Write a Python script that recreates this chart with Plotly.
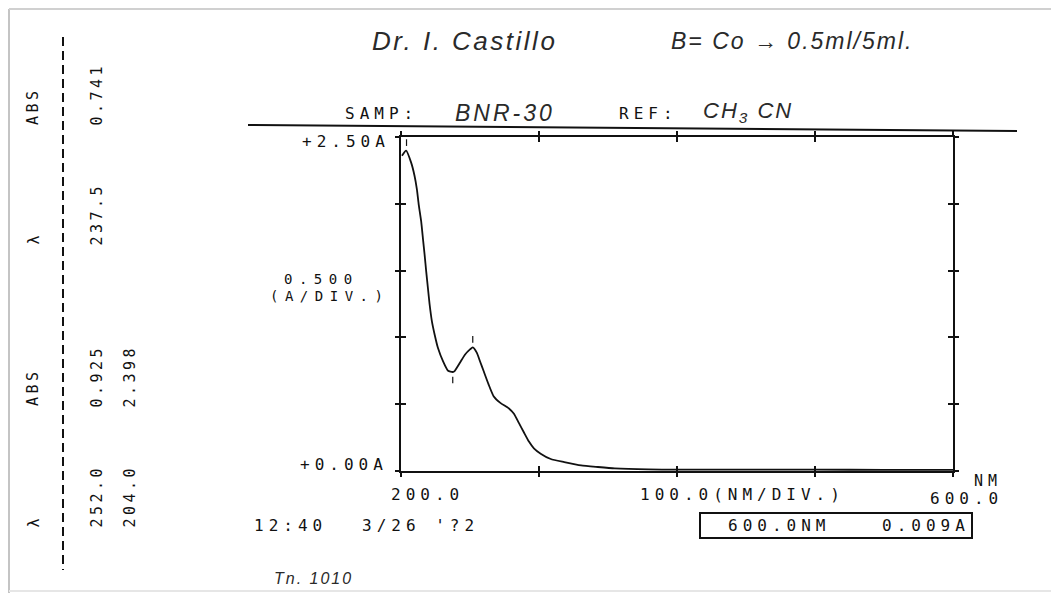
import plotly.graph_objects as go

# ---------------- data ----------------
wavelength_nm = [200.7, 203.7, 207.3, 209.8, 211.5, 212.9, 214.6, 215.9, 217.1, 218.3,
                 219.5, 220.7, 222.4, 224.4, 226.8, 230.5, 234.1, 237.5, 239.0, 242.7,
                 246.3, 250.0, 252.0, 254.9, 257.3, 259.8, 263.4, 267.1, 272.0, 278.0,
                 281.7, 285.4, 289.0, 292.7, 296.3, 301.2, 308.5, 318.3, 330.5, 342.7,
                 354.9, 379.0, 398.8, 450.0, 500.0, 550.0, 600.0]
absorbance = [2.36, 2.398, 2.31, 2.21, 2.11, 1.99, 1.87, 1.74, 1.62, 1.49,
              1.37, 1.25, 1.12, 1.02, 0.92, 0.82, 0.75, 0.741, 0.75, 0.81,
              0.87, 0.91, 0.925, 0.886, 0.82, 0.75, 0.65, 0.56, 0.51, 0.47,
              0.43, 0.36, 0.29, 0.22, 0.17, 0.13, 0.09, 0.067, 0.042, 0.03,
              0.02, 0.012, 0.010, 0.010, 0.010, 0.009, 0.009]

peak_nm = [204.0, 252.0]
peak_abs = [2.398, 0.925]
valley_nm = [237.5]
valley_abs = [0.741]

x_range = [200, 600]
y_range = [0, 2.5]
x_dtick = 100
y_dtick = 0.5

# ---------------- layout geometry ----------------
# the page body has an 8px margin, so the figure starts at (8, 8) of the window;
# coordinates below are given in window pixels and converted.
OFF = 8
W, H = 1059 - OFF, 593 - OFF
L, R, T, B = 401, 953, 137, 471          # plot box in window pixels
PW, PH = R - L, B - T


def px(x):
    return (x - L) / PW


def py(y):
    return (B - y) / PH


MONO = "DejaVu Sans Mono"
HAND = "Liberation Sans"

fig = go.Figure()

fig.add_trace(go.Scatter(
    x=wavelength_nm, y=absorbance, mode="lines",
    line=dict(color="#111111", width=1.8, shape="spline", smoothing=0.5),
    hoverinfo="x+y", showlegend=False,
))

# little peak / valley marker strokes
mx, my = [], []
for w, a in zip(peak_nm, peak_abs):
    mx += [w, w, None]
    my += [a + 0.035, a + 0.085, None]
for w, a in zip(valley_nm, valley_abs):
    mx += [w, w, None]
    my += [a - 0.035, a - 0.085, None]
fig.add_trace(go.Scatter(
    x=mx, y=my, mode="lines", xaxis="x2", yaxis="y2",
    line=dict(color="#111111", width=1.2), hoverinfo="skip", showlegend=False,
))

axis_common = dict(showline=True, linewidth=2, linecolor="#111111", mirror="allticks",
                   tickcolor="#111111", tickwidth=1.5, showticklabels=False,
                   showgrid=False, zeroline=False, fixedrange=True)

fig.update_layout(
    width=W, height=H,
    margin=dict(l=L - OFF, r=W - (R - OFF), t=T - OFF, b=H - (B - OFF), pad=0),
    paper_bgcolor="white", plot_bgcolor="white",
    xaxis=dict(range=x_range, tick0=x_range[0], dtick=x_dtick, ticks="inside", ticklen=5,
               **axis_common),
    yaxis=dict(range=y_range, tick0=0, dtick=y_dtick, ticks="inside", ticklen=5,
               **axis_common),
    xaxis2=dict(range=x_range, tick0=x_range[0], dtick=x_dtick, ticks="outside", ticklen=4,
                overlaying="x", anchor="y2", **axis_common),
    yaxis2=dict(range=y_range, tick0=0, dtick=y_dtick, ticks="outside", ticklen=4,
                overlaying="y", anchor="x2", **axis_common),
    showlegend=False,
)


def ls(text, spacing):
    return f'<span style="letter-spacing:{spacing}px">{text}</span>'


annotations = []


def mono(text, x, y, size=16, spacing=5, xanchor="center", yanchor="middle", angle=0):
    annotations.append(dict(
        text=ls(text, spacing), x=px(x), y=py(y), xref="paper", yref="paper",
        xanchor=xanchor, yanchor=yanchor, showarrow=False, textangle=angle,
        font=dict(family=MONO, size=size, color="#111111"),
    ))


def hand(text, x, y, size=20, spacing=1.5):
    annotations.append(dict(
        text=f'<i>{ls(text, spacing)}</i>', x=px(x), y=py(y), xref="paper", yref="paper",
        xanchor="center", yanchor="middle", showarrow=False,
        font=dict(family=HAND, size=size, color="#2a2a2a"),
    ))


# left rotated peak table
for text, x, ybot in [("ABS", 33, 127), ("0.741", 96, 128),
                      ("λ", 33, 247), ("237.5", 96, 248),
                      ("ABS", 33, 408), ("0.925", 96, 410), ("2.398", 129, 410),
                      ("λ", 33, 530), ("252.0", 96, 530), ("204.0", 129, 530)]:
    mono(text, x, ybot, size=15, spacing=3.5, yanchor="bottom", angle=-90)

# plot labels
mono("+2.50A", 346, 142)
mono("+0.00A", 344, 464)
mono("0.500", 321, 279, size=14, spacing=6.5)
mono("(A/DIV.)", 329, 296, size=14, spacing=6.5)
mono("200.0", 427, 494)
mono("100.0(NM/DIV.)", 742, 494)
mono("600.0", 966, 498)
mono("NM", 988, 481, size=15)
mono("12:40", 290, 525)
mono("3/26 '?2", 420, 525)
mono("600.0NM", 779, 525)
mono("0.009A", 926, 525)
mono("SAMP:", 381, 113)
mono("REF:", 648, 113)

# handwritten notes
hand("Dr. I. Castillo", 464, 41, size=26, spacing=2.5)
hand("B= Co → 0.5ml/5ml.", 792, 41, size=23, spacing=2)
hand("BNR-30", 505, 113, size=23, spacing=3)
hand("CH<sub>3</sub> CN", 748, 112, size=22, spacing=2)
hand("Tn. 1010", 313, 578, size=16, spacing=2)

fig.update_layout(annotations=annotations)

shapes = []


def pline(x0, y0, x1, y1, color="#111111", width=2, dash=None):
    d = dict(type="line", xref="paper", yref="paper", x0=px(x0), y0=py(y0),
             x1=px(x1), y1=py(y1), line=dict(color=color, width=width))
    if dash:
        d["line"]["dash"] = dash
    shapes.append(d)


# page edge (scan shadow)
pline(9, 9, 9, 593, color="#c4c4c4", width=2)
pline(9, 9, 1059, 9, color="#d0d0d0", width=2)
pline(9, 591, 1059, 591, color="#e6e6e6", width=2)
# header rule
pline(248, 125, 1017, 131, width=2)
# dashed separator on the left
pline(63, 37, 63, 570, width=2, dash="9px,5px")
# readout box
shapes.append(dict(type="rect", xref="paper", yref="paper",
                   x0=px(700), y0=py(538), x1=px(972), y1=py(513),
                   line=dict(color="#111111", width=2)))

fig.update_layout(shapes=shapes)

fig.write_html("out.html")
